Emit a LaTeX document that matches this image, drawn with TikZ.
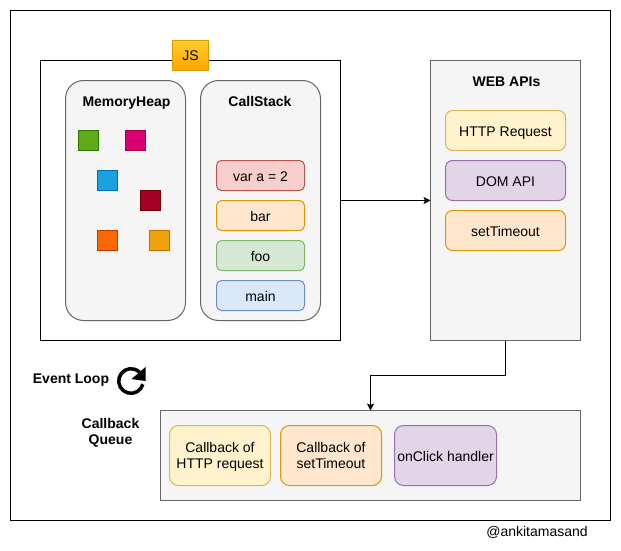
\documentclass[tikz,border=0pt]{standalone}
\usepackage{fontspec}
\setmainfont{Liberation Sans}
\usetikzlibrary{arrows.meta}
\definecolor{paneFill}{HTML}{F5F5F5}
\definecolor{paneLine}{HTML}{666666}
\definecolor{yellowFill}{HTML}{FFF2CC}
\definecolor{yellowLine}{HTML}{D6B656}
\definecolor{orangeFill}{HTML}{FFE6CC}
\definecolor{orangeLine}{HTML}{D79B00}
\definecolor{purpleFill}{HTML}{E1D5E7}
\definecolor{purpleLine}{HTML}{9673A6}
\definecolor{redFill}{HTML}{F8CECC}
\definecolor{redLine}{HTML}{B85450}
\definecolor{greenFill}{HTML}{D5E8D4}
\definecolor{greenLine}{HTML}{82B366}
\definecolor{blueFill}{HTML}{DAE8FC}
\definecolor{blueLine}{HTML}{6C8EBF}
\definecolor{jsTop}{HTML}{FFCD28}
\definecolor{jsBottom}{HTML}{FFA500}
\definecolor{blockGreen}{HTML}{60A917}
\definecolor{blockGreenLine}{HTML}{2D7600}
\definecolor{blockPink}{HTML}{D80073}
\definecolor{blockPinkLine}{HTML}{A50040}
\definecolor{blockBlue}{HTML}{1BA1E2}
\definecolor{blockBlueLine}{HTML}{006EAF}
\definecolor{blockCrimson}{HTML}{A20025}
\definecolor{blockCrimsonLine}{HTML}{6F0000}
\definecolor{blockOrange}{HTML}{FA6800}
\definecolor{blockOrangeLine}{HTML}{C73500}
\definecolor{blockAmber}{HTML}{F0A30A}
\definecolor{blockAmberLine}{HTML}{BD7000}
\tikzset{
    oneline/.style={text height=14pt, text depth=3pt},
    twolines/.style={text depth=0pt},
    box/.style n args={4}{
        draw=#2,
        fill=#1,
        rounded corners=#3,
        minimum width=#4,
        inner sep=0pt,
        outer sep=0pt,
        align=center,
        line width=1pt,
    },
    stackitem/.style 2 args={box={#1}{#2}{5pt}{88pt}, minimum height=30pt, oneline},
    apiitem/.style 2 args={box={#1}{#2}{7pt}{120pt}, minimum height=40pt, oneline},
    cbitem/.style n args={3}{box={#1}{#2}{9pt}{#3}, minimum height=60pt},
    block/.style 2 args={
        draw=#2,
        fill=#1,
        minimum size=20pt,
        inner sep=0pt,
        line width=1pt,
    },
    title/.style={font=\fontsize{14}{16}\selectfont\bfseries, align=center, inner sep=0pt},
    link/.style={-{Stealth[length=7pt,width=7pt,inset=1.5pt]}, line width=1pt},
}
\begin{document}
\begin{tikzpicture}[x=1pt, y=-1pt, every node/.append style={font=\fontsize{14}{16}\selectfont}]
    \useasboundingbox (0,0) rectangle (621,551);
    \draw[line width=1pt] (10.5,10.5) rectangle (610.5,520.5);

    % engine
    \node[draw, line width=1pt, outer sep=0pt, inner sep=0pt, minimum width=300pt, minimum height=280pt] (engine) at (190.5,200.5) {};
    \node[
        draw=orangeLine,
        top color=jsTop,
        bottom color=jsBottom,
        line width=1pt,
        minimum width=36pt,
        minimum height=30pt,
        inner sep=0pt,
        oneline,
    ] (js) at (190.5,55.5) {JS};

    \node[box={paneFill}{paneLine}{18pt}{120pt}, minimum height=240pt] (heap) at (125.5,200.5) {};
    \node[box={paneFill}{paneLine}{18pt}{120pt}, minimum height=240pt] (stack) at (260.5,200.5) {};
    \node[title, oneline] (heapTitle) at (126.5,101) {MemoryHeap};
    \node[title, oneline] (stackTitle) at (260,101) {CallStack};

    \node[block={blockGreen}{blockGreenLine}] (blockA) at (88,140.5) {};
    \node[block={blockPink}{blockPinkLine}] (blockB) at (135.5,140.5) {};
    \node[block={blockBlue}{blockBlueLine}] (blockC) at (107.5,180.5) {};
    \node[block={blockCrimson}{blockCrimsonLine}] (blockD) at (150.5,200.5) {};
    \node[block={blockOrange}{blockOrangeLine}] (blockE) at (107.5,240.5) {};
    \node[block={blockAmber}{blockAmberLine}] (blockF) at (159.5,240.5) {};

    \node[stackitem={redFill}{redLine}] (varA) at (260.5,175.5) {var a = 2};
    \node[stackitem={orangeFill}{orangeLine}] (bar) at (260.5,215.5) {bar};
    \node[stackitem={greenFill}{greenLine}] (foo) at (260.5,255.5) {foo};
    \node[stackitem={blueFill}{blueLine}] (main) at (260.5,295.5) {main};

    % web apis
    \node[box={paneFill}{paneLine}{0pt}{150pt}, minimum height=280pt] (web) at (505.5,200.5) {};
    \node[title, oneline] (webTitle) at (506.5,81) {WEB APIs};
    \node[apiitem={yellowFill}{yellowLine}] (http) at (505.5,130.5) {HTTP Request};
    \node[apiitem={purpleFill}{purpleLine}] (dom) at (505.5,180.5) {DOM API};
    \node[apiitem={orangeFill}{orangeLine}] (timeout) at (505.5,230.5) {setTimeout};

    % queue
    \node[box={paneFill}{paneLine}{0pt}{420pt}, minimum height=90pt] (queue) at (370.5,455.5) {};
    \node[cbitem={yellowFill}{yellowLine}{101pt}, twolines] (cbHttp) at (220,455.5) {Callback of\\HTTP request};
    \node[cbitem={orangeFill}{orangeLine}{101pt}, twolines] (cbTimeout) at (331,455.5) {Callback of\\setTimeout};
    \node[cbitem={purpleFill}{purpleLine}{102pt}, oneline] (cbClick) at (445.5,455.5) {onClick handler};

    \node[title, oneline] (loop) at (71,378) {Event Loop};
    \node[title, twolines] (queueTitle) at (110.5,431) {Callback\\Queue};
    \node[inner sep=0pt, oneline] (credit) at (537,531) {@ankitamasand};

    % loop icon
    \draw[line width=3.5pt] (142.9,384.2) arc[start angle=15, end angle=315, radius=12.3];
    \fill (145.5,367) -- (145.5,381) -- (131.5,379) -- cycle;

    \draw[link] (engine.east) -- (web.west);
    \draw[link] (web.south) -- ++(0,35) -| (queue.north);
\end{tikzpicture}
\end{document}
